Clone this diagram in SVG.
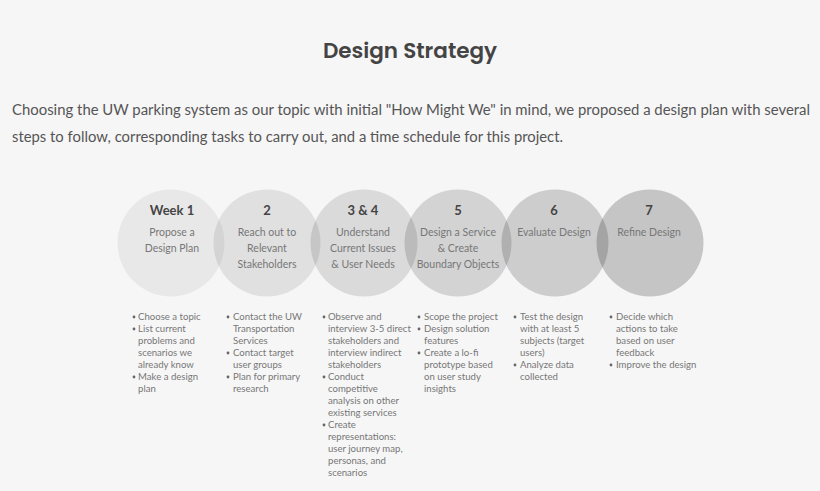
<svg xmlns="http://www.w3.org/2000/svg" width="820" height="491" viewBox="0 0 820 491">
<style>
.title{font-family:Poppins,"Open Sans","Liberation Sans",sans-serif;font-weight:600;font-size:21.5px;fill:#444}
.para{font-family:Lato,"Noto Sans","Liberation Sans",sans-serif;font-size:14.5px;fill:#555}
.wk{font-family:Lato,"Liberation Sans",sans-serif;font-weight:700;font-size:13px;fill:#444;text-anchor:middle}
.sub{font-family:Lato,"Liberation Sans",sans-serif;font-size:10.5px;fill:#777;text-anchor:middle}
.bl{font-family:Lato,"Liberation Sans",sans-serif;font-size:9.6px;fill:#777}
.dot{fill:#666}
.c{fill:#000}
</style>
<rect width="820" height="491" fill="#f6f6f6"/>
<text class="title" x="410" y="58" text-anchor="middle">Design Strategy</text>
<text class="para" x="12" y="115" textLength="798" lengthAdjust="spacingAndGlyphs">Choosing the UW parking system as our topic with initial "How Might We" in mind, we proposed a design plan with several</text>
<text class="para" x="12" y="142" textLength="551" lengthAdjust="spacingAndGlyphs">steps to follow, corresponding tasks to carry out, and a time schedule for this project.</text>

<g id="node1"><circle class="c" cx="171" cy="243" r="53.5" fill-opacity="0.055"/>
<text class="wk" x="172" y="215">Week 1</text>
<text class="sub" x="172" y="236">Propose a</text><text class="sub" x="172" y="252">Design Plan</text></g>
<g id="node2"><circle class="c" cx="267" cy="243" r="53.5" fill-opacity="0.085"/>
<text class="wk" x="267" y="215">2</text>
<text class="sub" x="267" y="236">Reach out to</text><text class="sub" x="267" y="252">Relevant</text><text class="sub" x="267" y="268">Stakeholders</text></g>
<g id="node3"><circle class="c" cx="364" cy="243" r="53.5" fill-opacity="0.112"/>
<text class="wk" x="363" y="215">3 &amp; 4</text>
<text class="sub" x="363" y="236">Understand</text><text class="sub" x="363" y="252">Current Issues</text><text class="sub" x="363" y="268">&amp; User Needs</text></g>
<g id="node4"><circle class="c" cx="458" cy="243" r="53.5" fill-opacity="0.14"/>
<text class="wk" x="458" y="215">5</text>
<text class="sub" x="458" y="236">Design a Service</text><text class="sub" x="458" y="252">&amp; Create</text><text class="sub" x="458" y="268">Boundary Objects</text></g>
<g id="node5"><circle class="c" cx="555" cy="243" r="53.5" fill-opacity="0.165"/>
<text class="wk" x="554" y="215">6</text>
<text class="sub" x="554" y="236">Evaluate Design</text></g>
<g id="node6"><circle class="c" cx="650" cy="243" r="53.5" fill-opacity="0.195"/>
<text class="wk" x="649" y="215">7</text>
<text class="sub" x="649" y="236">Refine Design</text></g>

<g id="list1">
<circle class="dot" cx="134" cy="317" r="1.4"/><text class="bl" x="138" y="320">Choose a topic</text>
<circle class="dot" cx="134" cy="329" r="1.4"/><text class="bl" x="138" y="332">List current</text>
<text class="bl" x="138" y="344">problems and</text>
<text class="bl" x="138" y="356">scenarios we</text>
<text class="bl" x="138" y="368">already know</text>
<circle class="dot" cx="134" cy="377" r="1.4"/><text class="bl" x="138" y="380">Make a design</text>
<text class="bl" x="138" y="392">plan</text>
</g>
<g id="list2">
<circle class="dot" cx="228" cy="317" r="1.4"/><text class="bl" x="233" y="320">Contact the UW</text>
<text class="bl" x="233" y="332">Transportation</text>
<text class="bl" x="233" y="344">Services</text>
<circle class="dot" cx="228" cy="353" r="1.4"/><text class="bl" x="233" y="356">Contact target</text>
<text class="bl" x="233" y="368">user groups</text>
<circle class="dot" cx="228" cy="377" r="1.4"/><text class="bl" x="233" y="380">Plan for primary</text>
<text class="bl" x="233" y="392">research</text>
</g>
<g id="list3">
<circle class="dot" cx="324" cy="317" r="1.4"/><text class="bl" x="328" y="320">Observe and</text>
<text class="bl" x="328" y="332">interview 3-5 direct</text>
<text class="bl" x="328" y="344">stakeholders and</text>
<text class="bl" x="328" y="356">interview indirect</text>
<text class="bl" x="328" y="368">stakeholders</text>
<circle class="dot" cx="324" cy="377" r="1.4"/><text class="bl" x="328" y="380">Conduct</text>
<text class="bl" x="328" y="392">competitive</text>
<text class="bl" x="328" y="404">analysis on other</text>
<text class="bl" x="328" y="416">existing services</text>
<circle class="dot" cx="324" cy="425" r="1.4"/><text class="bl" x="328" y="428">Create</text>
<text class="bl" x="328" y="440">representations:</text>
<text class="bl" x="328" y="452">user journey map,</text>
<text class="bl" x="328" y="464">personas, and</text>
<text class="bl" x="328" y="476">scenarios</text>
</g>
<g id="list4">
<circle class="dot" cx="419" cy="317" r="1.4"/><text class="bl" x="424" y="320">Scope the project</text>
<circle class="dot" cx="419" cy="329" r="1.4"/><text class="bl" x="424" y="332">Design solution</text>
<text class="bl" x="424" y="344">features</text>
<circle class="dot" cx="419" cy="353" r="1.4"/><text class="bl" x="424" y="356">Create a lo-fi</text>
<text class="bl" x="424" y="368">prototype based</text>
<text class="bl" x="424" y="380">on user study</text>
<text class="bl" x="424" y="392">insights</text>
</g>
<g id="list5">
<circle class="dot" cx="515" cy="317" r="1.4"/><text class="bl" x="520" y="320">Test the design</text>
<text class="bl" x="520" y="332">with at least 5</text>
<text class="bl" x="520" y="344">subjects (target</text>
<text class="bl" x="520" y="356">users)</text>
<circle class="dot" cx="515" cy="365" r="1.4"/><text class="bl" x="520" y="368">Analyze data</text>
<text class="bl" x="520" y="380">collected</text>
</g>
<g id="list6">
<circle class="dot" cx="611" cy="317" r="1.4"/><text class="bl" x="616" y="320">Decide which</text>
<text class="bl" x="616" y="332">actions to take</text>
<text class="bl" x="616" y="344">based on user</text>
<text class="bl" x="616" y="356">feedback</text>
<circle class="dot" cx="611" cy="365" r="1.4"/><text class="bl" x="616" y="368">Improve the design</text>
</g>
<g id="connectors"></g>
</svg>
